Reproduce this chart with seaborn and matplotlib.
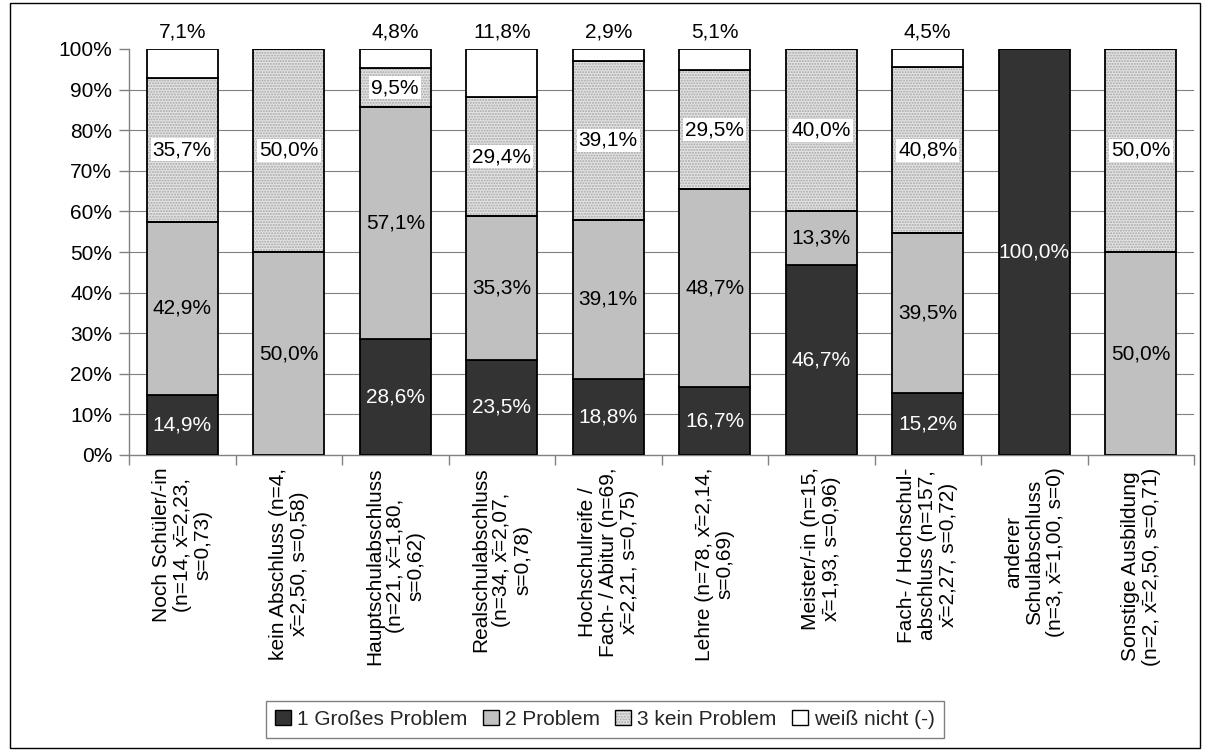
import numpy as np
import pandas as pd
import matplotlib
matplotlib.use("Agg")
import matplotlib.pyplot as plt
from matplotlib.patches import Rectangle, Patch
from matplotlib.ticker import FixedLocator
import seaborn as sns

# Education groups with sample size, mean and standard deviation
categories = [
    "Noch Schüler/-in\n(n=14, x\u0304=2,23,\ns=0,73)",
    "kein Abschluss (n=4,\nx\u0304=2,50, s=0,58)",
    "Hauptschulabschluss\n(n=21, x\u0304=1,80,\ns=0,62)",
    "Realschulabschluss\n(n=34, x\u0304=2,07,\ns=0,78)",
    "Hochschulreife /\nFach- / Abitur (n=69,\nx\u0304=2,21, s=0,75)",
    "Lehre (n=78, x\u0304=2,14,\ns=0,69)",
    "Meister/-in (n=15,\nx\u0304=1,93, s=0,96)",
    "Fach- / Hochschul-\nabschluss (n=157,\nx\u0304=2,27, s=0,72)",
    "anderer\nSchulabschluss\n(n=3, x\u0304=1,00, s=0)",
    "Sonstige Ausbildung\n(n=2, x\u0304=2,50, s=0,71)",
]

# Answer shares in percent
grosses_problem = [14.9, 0.0, 28.6, 23.5, 18.8, 16.7, 46.7, 15.2, 100.0, 0.0]
problem = [42.9, 50.0, 57.1, 35.3, 39.1, 48.7, 13.3, 39.5, 0.0, 50.0]
kein_problem = [35.7, 50.0, 9.5, 29.4, 39.1, 29.5, 40.0, 40.8, 0.0, 50.0]
weiss_nicht = [7.1, 0.0, 4.8, 11.8, 2.9, 5.1, 0.0, 4.5, 0.0, 0.0]

series_names = ["1 Großes Problem", "2 Problem", "3 kein Problem", "weiß nicht (-)"]
y_tick_values = [0, 10, 20, 30, 40, 50, 60, 70, 80, 90, 100]
y_tick_labels = ["0%", "10%", "20%", "30%", "40%", "50%", "60%", "70%", "80%", "90%", "100%"]

sns.set_theme(style="white")
plt.rcParams["font.family"] = ["Liberation Sans", "DejaVu Sans"]
FS = 15

values = np.array([grosses_problem, problem, kein_problem, weiss_nicht])
shares = values / values.sum(axis=0)  # 100 % stacked columns

fig = plt.figure(figsize=(12.1, 7.51), dpi=100)
W, H = 1210, 751
ax = fig.add_axes([129 / W, (H - 455) / H, (1194 - 129) / W, (455 - 49) / H])

faces = ["#333333", "#C0C0C0", "#E4E4E4", "#FFFFFF"]
text_colors = ["white", "black", "black", "black"]
bar_w = 0.67
edge_lw = 1.3

bottom = np.zeros(len(categories))
for i, name in enumerate(series_names):
    df = pd.DataFrame({"Abschluss": categories, "Anteil": shares[i]})
    if i == 2:
        # dotted fill first, then the black outline on top
        sns.barplot(data=df, x="Abschluss", y="Anteil", order=categories,
                    bottom=bottom, width=bar_w, color=faces[i],
                    facecolor=faces[i], edgecolor="#A6A6A6", linewidth=0,
                    hatch="......", errorbar=None, ax=ax, zorder=2)
        sns.barplot(data=df, x="Abschluss", y="Anteil", order=categories,
                    bottom=bottom, width=bar_w, color="white",
                    facecolor="none", edgecolor="black", linewidth=edge_lw,
                    errorbar=None, ax=ax, zorder=3)
    else:
        sns.barplot(data=df, x="Abschluss", y="Anteil", order=categories,
                    bottom=bottom, width=bar_w, color=faces[i],
                    facecolor=faces[i], edgecolor="black", linewidth=edge_lw,
                    errorbar=None, ax=ax, zorder=3)

    for j, v in enumerate(values[i]):
        if v <= 0:
            continue
        txt = f"{v:.1f}".replace(".", ",") + "%"
        if i == 3:
            ax.annotate(txt, (j, bottom[j] + shares[i][j]), xytext=(0, 8),
                        textcoords="offset points", ha="center", va="baseline",
                        fontsize=FS, color="black", zorder=5)
        else:
            kw = {}
            if i == 2:
                kw["bbox"] = dict(facecolor="white", edgecolor="none", pad=1.5)
            ax.text(j, bottom[j] + shares[i][j] / 2, txt, ha="center", va="center",
                    fontsize=FS, color=text_colors[i], zorder=5, **kw)
    bottom = bottom + shares[i]

# axes, ticks and grid
ax.set_xlim(-0.5, len(categories) - 0.5)
ax.set_ylim(0, 1)
ax.set_yticks([v / 100 for v in y_tick_values])
ax.set_yticklabels(y_tick_labels, fontsize=FS, color="black")
ax.set_xlabel("")
ax.set_ylabel("")
ax.set_xticks(range(len(categories)))
ax.set_xticklabels(categories, rotation=90, ha="center", va="top",
                   multialignment="center", linespacing=1.12, fontsize=FS,
                   color="black")
ax.xaxis.set_minor_locator(FixedLocator(np.arange(-0.5, len(categories), 1.0)))
ax.tick_params(axis="x", which="major", length=0, pad=9)
ax.tick_params(axis="x", which="minor", length=7, width=1, color="#808080",
               direction="out", bottom=True)
ax.tick_params(axis="y", which="major", length=7, width=1, color="#808080",
               direction="out", left=True, pad=5)

ax.set_axisbelow(True)
ax.grid(axis="y", color="#808080", linewidth=0.8)
ax.grid(axis="x", visible=False)
gl = ax.yaxis.get_gridlines()
gl[0].set_visible(False)
gl[-1].set_visible(False)

for side in ["top", "right"]:
    ax.spines[side].set_visible(False)
for side in ["left", "bottom"]:
    ax.spines[side].set_color("#808080")
    ax.spines[side].set_linewidth(1.0)

# legend
handles = [
    Patch(facecolor=faces[0], edgecolor="black", linewidth=1),
    Patch(facecolor=faces[1], edgecolor="black", linewidth=1),
    (Patch(facecolor=faces[2], edgecolor="#A6A6A6", linewidth=0, hatch="......"),
     Patch(facecolor="none", edgecolor="black", linewidth=1)),
    Patch(facecolor=faces[3], edgecolor="black", linewidth=1),
]
leg = fig.legend(handles, series_names, loc="center", bbox_to_anchor=(0.5, 0.042),
                 ncol=4, frameon=True, fancybox=False, edgecolor="#808080",
                 framealpha=1, fontsize=FS, handlelength=0.75, handleheight=0.75,
                 handletextpad=0.3, columnspacing=0.75, borderpad=0.45)
leg.get_frame().set_linewidth(1.0)

# outer frame around the whole chart
fig.add_artist(Rectangle((10 / W, 3 / H), (1200 - 10) / W, (748 - 3) / H,
                         transform=fig.transFigure, fill=False,
                         edgecolor="black", linewidth=1))

fig.savefig("out.png", dpi=100)
